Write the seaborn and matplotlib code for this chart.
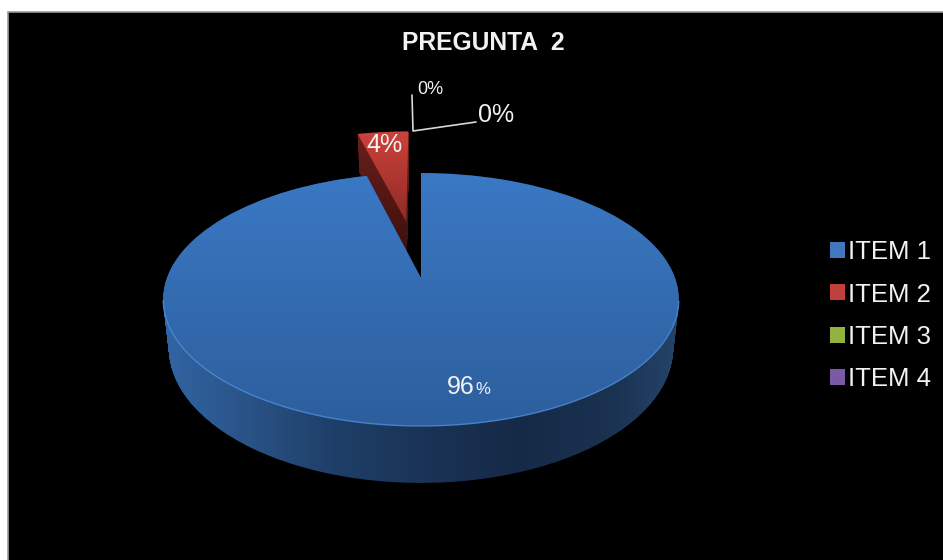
import numpy as np
import seaborn as sns
import matplotlib
matplotlib.use('Agg')
import matplotlib.pyplot as plt
from matplotlib.colors import LinearSegmentedColormap
from matplotlib.patches import Patch, PathPatch, Rectangle
from matplotlib.path import Path
from matplotlib.transforms import Affine2D

items = ['ITEM 1', 'ITEM 2', 'ITEM 3', 'ITEM 4']
valores = [96, 4, 0, 0]
separacion = [0, 0.5, 0, 0]
titulo = 'PREGUNTA  2'

sns.set_style('dark')
plt.rcParams['font.family'] = ['Liberation Sans', 'DejaVu Sans']
paleta = sns.color_palette(['#3f78c0', '#c0413c', '#93b33f', '#7a5aa6'])

# perspectiva del disco a pixeles
CX, CY = 421, 278
KP, AX, AY, ALTO = 0.17, 254, 122.8, 47.3


def proyectar(path, z=0.0):
    v = path.vertices
    d = 1 + KP * v[:, 1]
    # la base se ve un poco mas estrecha que la tapa
    enc = 1 - 0.022 * z / ALTO
    xy = np.column_stack([CX + enc * AX * v[:, 0] / d, CY - AY * v[:, 1] / d + z / d])
    return Path(xy, path.codes)


def degradado(ax, clip, extent, colores, vertical=True, zorder=2):
    cmap = LinearSegmentedColormap.from_list('g', colores)
    g = np.linspace(0, 1, 256)
    g = g[:, None] if vertical else g[None, :]
    im = ax.imshow(g, cmap=cmap, extent=extent, aspect='auto', zorder=zorder, interpolation='bilinear')
    im.set_clip_path(clip)
    return im


fig = plt.figure(figsize=(9.43, 5.6), dpi=100, facecolor='white')
ax = fig.add_axes([0, 0, 1, 1])

wedges, _ = ax.pie(valores, explode=separacion, startangle=90, counterclock=False, colors=paleta)
caminos = [w.get_path() for w in wedges]
for w in wedges:
    w.remove()

ax.add_patch(Rectangle((8, 12), 940, 552, facecolor='black', edgecolor='#9a9a9a', linewidth=1.2, zorder=0))


def lateral(camino):
    capas = [proyectar(camino, z) for z in np.linspace(0, ALTO, 60)]
    return Path.make_compound_path(*capas)


def cara(camino, z_orden, sup, lat, ext_sup, ext_lat, vert_lat):
    p_lat = PathPatch(lateral(camino), facecolor='none', edgecolor='none', zorder=z_orden)
    ax.add_patch(p_lat)
    degradado(ax, p_lat, ext_lat, lat, vertical=vert_lat, zorder=z_orden)
    p_sup = PathPatch(proyectar(camino), facecolor='none', edgecolor='none', zorder=z_orden + 1)
    ax.add_patch(p_sup)
    degradado(ax, p_sup, ext_sup, sup, zorder=z_orden + 1)


# rojo detras, azul delante
cara(caminos[1], 2, ['#cf433c', '#8c2a25'], ['#6e201c', '#3a0f0d'],
     (340, 420, 225, 128), (340, 420, 260, 128), True)
cara(caminos[0], 4, ['#3b79c5', '#2c5e9c'],
     ['#3268a8', '#2a5488', '#1f3f68', '#1a3356', '#152a47', '#1a3150', '#27496f'],
     (150, 700, 430, 170), (150, 700, 490, 170), False)

# brillo del borde delantero, con la curva aplanada
fino = caminos[0].transformed(Affine2D().scale(1000)).to_polygons(closed_only=False)[0] / 1000
arco = proyectar(Path(fino)).vertices
arco = arco[arco[:, 1] > 300]
ax.plot(arco[:, 0], arco[:, 1], color='#4a88d4', linewidth=1.0, alpha=0.9, zorder=7)

# lineas guia de las etiquetas en cero
ax.plot([412, 413, 476], [95, 131, 122], color='#d8d8d8', linewidth=1.2, zorder=7)

blanco = '#f2f2f2'
ax.text(384, 145, f'{valores[1]}%', color=blanco, fontsize=18, ha='center', va='center', zorder=8)
ax.text(478, 115, f'{valores[2]}%', color=blanco, fontsize=18, ha='left', va='center', zorder=8)
ax.text(430, 90, f'{valores[3]}%', color=blanco, fontsize=13, ha='center', va='center', zorder=8)
ax.text(475, 387, f'{valores[0]}', color=blanco, fontsize=18, ha='right', va='center', zorder=8)
ax.text(475, 389, '%', color=blanco, fontsize=12, ha='left', va='center', zorder=8)
ax.text(483, 43, titulo, color=blanco, fontsize=17.7, fontweight='bold', ha='center', va='center', zorder=8)

ley = ax.legend(handles=[Patch(facecolor=c, edgecolor='none') for c in paleta], labels=items,
                loc='upper left', bbox_to_anchor=(830, 240), bbox_transform=ax.transData,
                frameon=False, fontsize=18.5, labelcolor=blanco, handlelength=0.58, handleheight=0.58,
                handletextpad=0.12, labelspacing=0.72, borderpad=0, borderaxespad=0)
ley.set_zorder(9)

ax.set_aspect('auto')
ax.set_xlim(0, 943)
ax.set_ylim(560, 0)
ax.set_frame_on(False)
ax.set_xticks([])
ax.set_yticks([])

fig.savefig('out.png', dpi=100, facecolor='white')
